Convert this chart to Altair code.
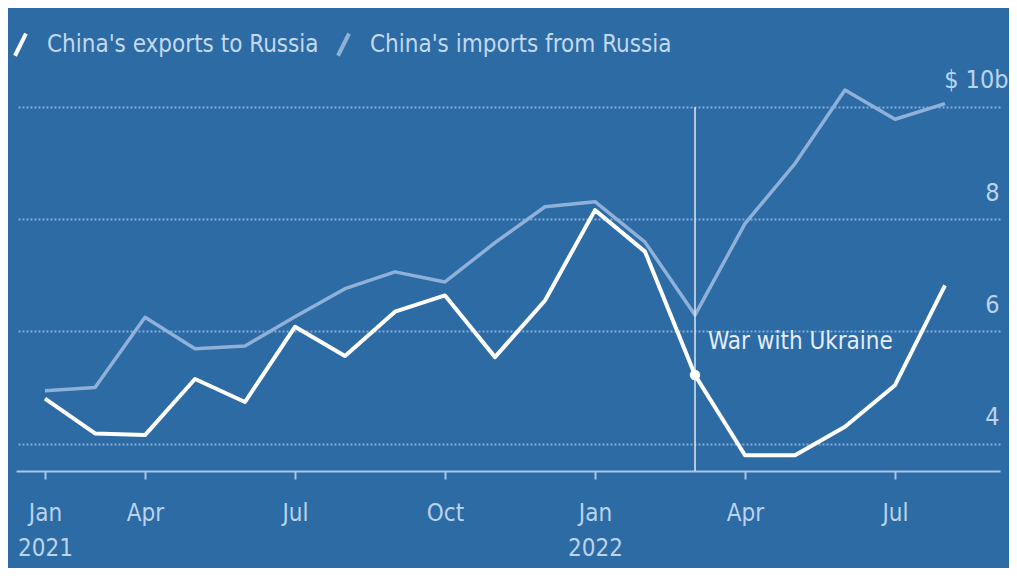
import altair as alt
import pandas as pd

# ---- data ----
periods = ["2021-01", "2021-03", "2021-04", "2021-05", "2021-06", "2021-07",
           "2021-08", "2021-09", "2021-10", "2021-11", "2021-12", "2022-01",
           "2022-02", "2022-03", "2022-04", "2022-05", "2022-06", "2022-07",
           "2022-08"]
exports = [4.80, 4.18, 4.15, 5.15, 4.74, 6.08, 5.56, 6.35, 6.64, 5.54, 6.55,
           8.16, 7.42, 5.22, 3.79, 3.79, 4.30, 5.04, 6.82]
imports = [4.94, 5.00, 6.25, 5.69, 5.74, 6.26, 6.76, 7.06, 6.88, 7.58, 8.22,
           8.31, 7.59, 6.29, 7.92, 8.99, 10.30, 9.78, 10.06]
series_names = ["China's exports to Russia", "China's imports from Russia"]
series_colors = ["#ffffff", "#8fb1d9"]

tick_pos = [0, 2, 5, 8, 11, 14, 17]
tick_labels = [["Jan", "2021"], ["Apr"], ["Jul"], ["Oct"], ["Jan", "2022"], ["Apr"], ["Jul"]]
y_ticks = [4, 6, 8, 10]
y_domain = [3.51, 10.48]
x_domain = [-0.58, 19.1]

war_index = 13
war_label = "War with Ukraine"
war_label_value = 5.81

FONT = "DejaVu Sans Condensed, DejaVu Sans, sans-serif"
BG = "#2c6ba4"
LABEL_COLOR = "#bcd3ee"

# ---- tables ----
rows = []
for name, vals in zip(series_names, [exports, imports]):
    for i, (p, v) in enumerate(zip(periods, vals)):
        rows.append({"idx": i, "period": p, "series": name, "value": v})
df = pd.DataFrame(rows)

war_df = pd.DataFrame({"idx": [war_index], "top": [y_ticks[-1]], "bot": [y_domain[0]],
                       "dot": [exports[war_index]], "lab": [war_label_value],
                       "text": [war_label]})


def js(v):
    if len(v) == 1:
        return "'" + v[0] + "'"
    return "[" + ",".join("'" + s + "'" for s in v) + "]"


x_expr = "''"
for p, lab in reversed(list(zip(tick_pos, tick_labels))):
    x_expr = f"datum.value == {p} ? {js(lab)} : ({x_expr})"

top_test = f"datum.value == {y_ticks[-1]}"

x_enc = alt.X(
    "idx:Q",
    scale=alt.Scale(domain=x_domain, nice=False, zero=False),
    axis=alt.Axis(values=tick_pos, labelExpr=x_expr, title=None, grid=False,
                  domainColor="#a9c6e8", domainWidth=2, tickColor="#a9c6e8",
                  tickWidth=2, tickSize=8, labelColor=LABEL_COLOR, labelFontSize=24,
                  labelFont=FONT, labelPadding=22, labelLineHeight=35,
                  labelOverlap=False, labelFlush=False, labelBound=False),
)
y_enc = alt.Y(
    "value:Q",
    scale=alt.Scale(domain=y_domain, nice=False, zero=False),
    axis=alt.Axis(orient="right", values=y_ticks, title=None,
                  labelExpr=f"{top_test} ? '$ 10b' : format(datum.value, 'd')",
                  grid=True, gridColor="#a3c1e4", gridDash=[2, 2], gridWidth=2,
                  gridOpacity=0.75, domain=False, ticks=False,
                  labelAlign={"condition": {"test": top_test, "value": "right"}, "value": "center"},
                  labelPadding={"condition": {"test": top_test, "value": 8}, "value": -8},
                  labelBaseline="middle",
                  labelOffset=-27, labelColor=LABEL_COLOR, labelFontSize=25,
                  labelFont=FONT, labelBound=False, labelOverlap=False),
)
color_enc = alt.Color(
    "series:N",
    scale=alt.Scale(domain=series_names, range=series_colors),
    legend=alt.Legend(title=None, orient="none", legendX=-10, legendY=-50,
                      direction="horizontal", symbolType="M-0.45,0.9L0.45,-0.9",
                      symbolStrokeWidth=4, symbolSize=600, labelFontSize=24,
                      labelFont=FONT, labelColor="#c4d9f0", columnPadding=10,
                      labelOffset=12, labelLimit=0),
)

imp_line = alt.Chart(df).transform_filter(
    alt.datum.series == series_names[1]
).mark_line(strokeWidth=3.5, strokeJoin="round").encode(x=x_enc, y=y_enc, color=color_enc)

exp_line = alt.Chart(df).transform_filter(
    alt.datum.series == series_names[0]
).mark_line(strokeWidth=4, strokeJoin="round").encode(x="idx:Q", y="value:Q", color=color_enc)

war_rule = alt.Chart(war_df).mark_rule(color="#dbe7f5", strokeWidth=1.5).encode(
    x="idx:Q", y="top:Q", y2="bot:Q")

war_dot = alt.Chart(war_df).mark_circle(size=110, color="#ffffff", opacity=1).encode(
    x="idx:Q", y="dot:Q")

war_text = alt.Chart(war_df).mark_text(
    align="left", baseline="middle", dx=13, fontSize=24, font=FONT, color="#e4edf8"
).encode(x="idx:Q", y="lab:Q", text="text:N")

chart = alt.layer(imp_line, war_rule, exp_line, war_dot, war_text).properties(
    width=984, height=391,
    autosize=alt.AutoSizeParams(type="none"),
    padding={"left": 8, "top": 72, "right": 9, "bottom": 97},
    background=BG,
).configure_view(stroke=None)

chart.save("out.html", embed_options={"renderer": "svg", "actions": False})
